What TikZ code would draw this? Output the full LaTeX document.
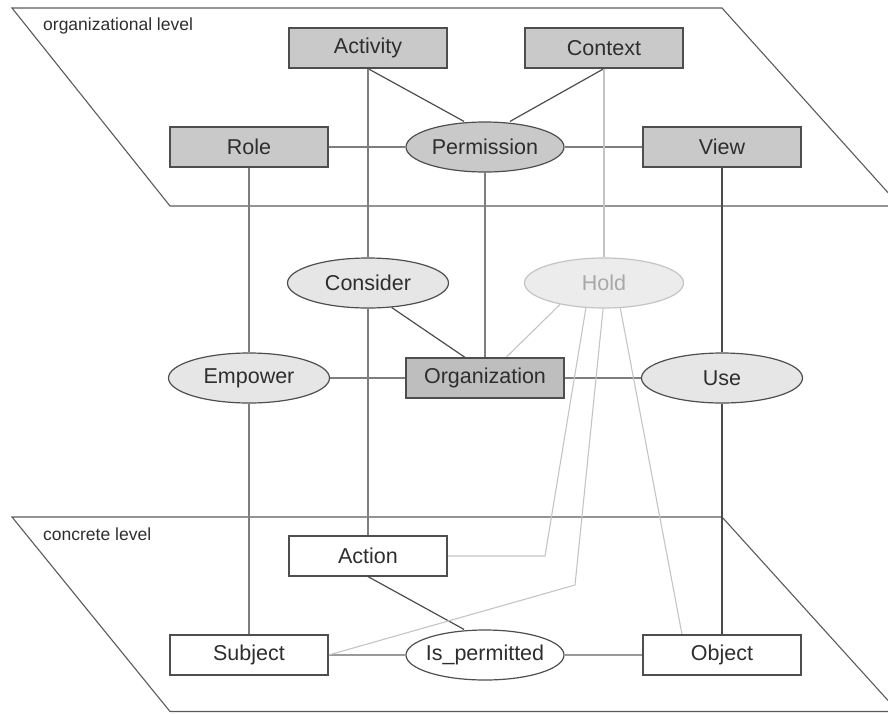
\documentclass[tikz,border=0pt]{standalone}
\usepackage{fontspec}
\setmainfont{Liberation Sans}
\usetikzlibrary{shapes.geometric,backgrounds}
\definecolor{txt}{HTML}{2E2E2E}
\definecolor{bord}{HTML}{4E4E4E}
\definecolor{boxfill}{HTML}{C9C9C9}
\definecolor{orgfill}{HTML}{BEBEBE}
\definecolor{lightfill}{HTML}{E6E6E6}
\definecolor{holdfill}{HTML}{ECECEC}
\definecolor{holdbord}{HTML}{C4C4C4}
\definecolor{holdtxt}{HTML}{A8A8A8}
\definecolor{cdarkc}{HTML}{4C4C4C}
\definecolor{cmidc}{HTML}{7E7E7E}
\definecolor{csoftc}{HTML}{9A9A9A}
\definecolor{clightc}{HTML}{C4C4C4}
\definecolor{planec}{HTML}{5A5A5A}
\begin{document}
\begin{tikzpicture}[x=1pt,y=-1pt,
  lbl/.style={font=\fontsize{21.5}{25}\selectfont, text=txt},
  box/.style={lbl, rectangle, draw=bord, line width=1.2pt, minimum width=158pt, minimum height=40pt, inner sep=0pt},
  darkbox/.style={box, fill=boxfill},
  orgbox/.style={box, fill=orgfill},
  whitebox/.style={box, fill=white},
  ell/.style={lbl, ellipse, draw=bord, line width=1.2pt, minimum width=161pt, minimum height=50pt, inner xsep=-4pt, inner ysep=0pt},
  darkell/.style={ell, fill=boxfill, minimum width=158pt},
  lightell/.style={ell, fill=lightfill},
  holdell/.style={ell, fill=holdfill, draw=holdbord, text=holdtxt, minimum width=159pt},
  whiteell/.style={ell, fill=white, minimum width=158pt},
  lvl/.style={font=\fontsize{17.5}{20}\selectfont, text=txt, inner sep=0pt, anchor=base west},
  plane/.style={draw=planec, line width=1.1pt},
  cdark/.style={draw=cdarkc, line width=1.2pt},
  cmid/.style={draw=cmidc, line width=1.1pt},
  csoft/.style={draw=csoftc, line width=1.1pt},
  clight/.style={draw=clightc, line width=1.1pt}
]
\useasboundingbox (0,0) rectangle (888,713);

\node[lvl] (orglbl) at (43,30) {organizational level};
\node[lvl] (conlbl) at (43,540) {concrete level};

\node[darkbox] (activity) at (368,48) {Activity};
\node[darkbox] (context) at (604,48) {Context};
\node[darkbox] (role) at (249,147) {Role};
\node[darkell] (perm) at (485,147) {Permission};
\node[darkbox] (view) at (722,147) {View};
\node[lightell] (consider) at (368,283) {Consider};
\node[holdell] (hold) at (604,283) {Hold};
\node[lightell] (empower) at (249,378) {Empower};
\node[orgbox] (org) at (485,378) {Organization};
\node[lightell] (use) at (722,378) {Use};
\node[whitebox] (action) at (368,556) {Action};
\node[whitebox] (subject) at (249,655) {Subject};
\node[whiteell] (isp) at (485,655) {Is\_permitted};
\node[whitebox] (object) at (722,655) {Object};

\coordinate (hb1) at (545,556);
\coordinate (hb2) at (575,585);

\begin{scope}[on background layer]
  \clip (0,0) rectangle (888,713);
  \draw[plane] (12,8) -- (722,8) -- (900,206) -- (170,206) -- cycle;
  \draw[plane] (12,517) -- (722,517) -- (898,711.5) -- (170,711.5) -- cycle;

  \draw[cdark] (activity.south) -- ([xshift=-21pt]perm.north);
  \draw[cdark] (context.south) -- ([xshift=25pt]perm.north);
  \draw[cmid] (role) -- (perm);
  \draw[cmid] (perm) -- (view);
  \draw[cmid] (activity) -- (consider);
  \draw[cmid] (consider) -- (action);
  \draw[cmid] (role) -- (empower);
  \draw[cmid] (empower) -- (subject);
  \draw[cmid] (perm) -- (org);
  \draw[clight] (context) -- (hold);
  \draw[cdark] (view) -- (use);
  \draw[cdark] (use) -- (object);
  \draw[cdark] (consider.314) -- ([xshift=-20pt]org.north);
  \draw[clight] (hold.206) -- ([xshift=21pt]org.north);
  \draw[cmid] (empower) -- (org);
  \draw[cmid] (org) -- (use);
  \draw[cdark] (action.south) -- ([xshift=-21pt]isp.north);
  \draw[csoft] (subject) -- (isp);
  \draw[csoft] (isp) -- (object);
  \draw[clight] (hold.234) -- (hb1) -- (action.east);
  \draw[clight] (hold.268) -- (hb2) -- (subject.east);
  \draw[clight] (hold.303) -- ([xshift=-40pt]object.north);
\end{scope}
\end{tikzpicture}
\end{document}
